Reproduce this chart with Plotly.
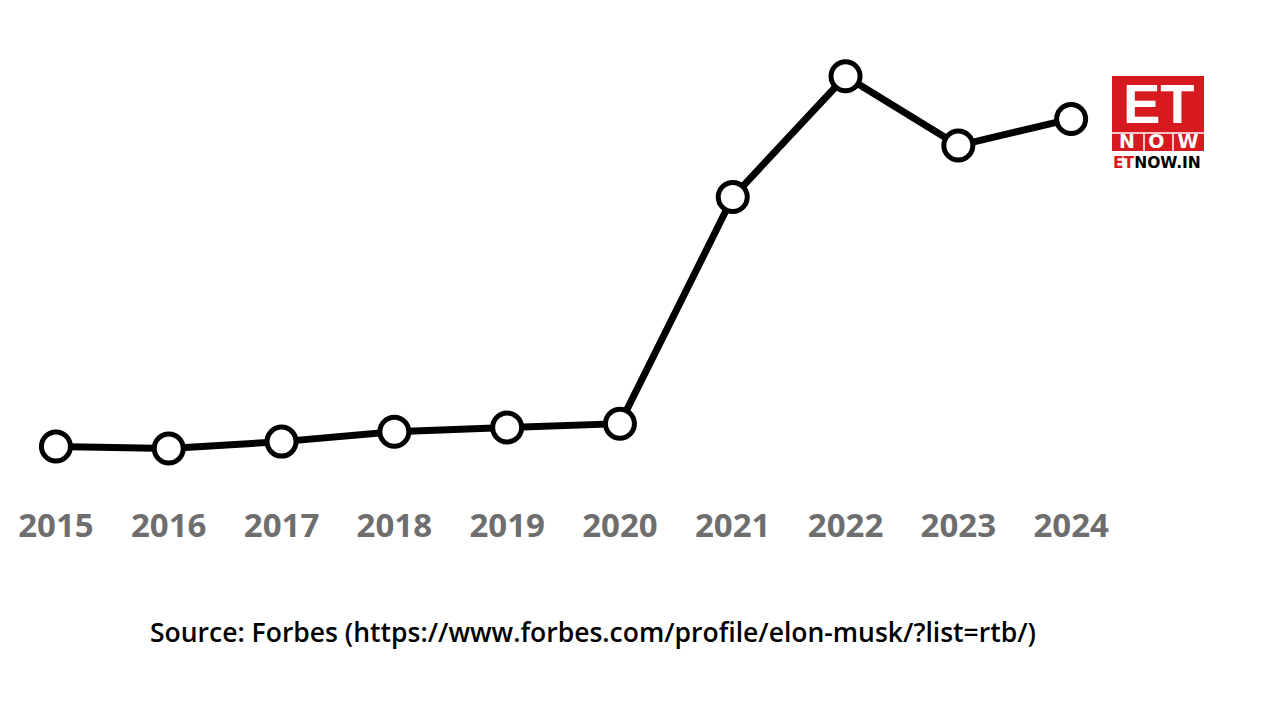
import plotly.graph_objects as go

years = [2015, 2016, 2017, 2018, 2019, 2020, 2021, 2022, 2023, 2024]
net_worth = [10.5, 9.4, 13.3, 18.9, 21.2, 23.4, 151, 219, 180, 195]
tick_labels = [str(y) for y in years]
source_text = "Source: Forbes (https://www.forbes.com/profile/elon-musk/?list=rtb/)"

W, H = 1280, 720
OFF = 8  # page offset of the figure
L, R, T, B = 0, 152, 31, 245
PW, PH = W - L - R, H - T - B

def px(x):
    return (x - OFF - L) / PW

def py(y):
    return (H - B - (y - OFF)) / PH

fig = go.Figure()
fig.add_trace(go.Scatter(
    x=years, y=net_worth, mode="lines+markers",
    line=dict(color="black", width=7),
    marker=dict(size=29, color="white", line=dict(color="black", width=5)),
    cliponaxis=False, hoverinfo="skip",
))

RED = "#d71920"
shapes = [
    dict(type="rect", xref="paper", yref="paper", x0=px(1112), x1=px(1204), y0=py(151), y1=py(76),
         fillcolor=RED, line=dict(width=0), layer="above"),
    dict(type="line", xref="paper", yref="paper", x0=px(1112), x1=px(1204), y0=py(133), y1=py(133),
         line=dict(color="white", width=1.5), layer="above"),
    dict(type="line", xref="paper", yref="paper", x0=px(1144), x1=px(1144), y0=py(133), y1=py(151),
         line=dict(color="white", width=1.5), layer="above"),
    dict(type="line", xref="paper", yref="paper", x0=px(1173), x1=px(1173), y0=py(133), y1=py(151),
         line=dict(color="white", width=1.5), layer="above"),
]

nb = "\u00a0\u00a0"
logo_text = ("<span style='font-family:Liberation Sans;font-size:56px'><b>ET</b></span><br>"
             f"<b>N{nb}O{nb}W</b>")

annotations = [
    dict(x=px(1159), y=py(152.5), xref="paper", yref="paper", text=logo_text, showarrow=False,
         borderpad=0, align="center",
         font=dict(family="DejaVu Sans", size=19, color="white"), xanchor="center", yanchor="bottom"),
    dict(x=px(1157), y=py(152.5), xref="paper", yref="paper",
         text=f"<b><span style='color:{RED}'>ET</span>NOW.IN</b>", showarrow=False, borderpad=0,
         font=dict(family="DejaVu Sans", size=15.5, color="black"), xanchor="center", yanchor="top"),
    dict(x=px(593), y=py(632), xref="paper", yref="paper", text=source_text, showarrow=False,
         font=dict(family="Open Sans", size=26.5, color="black", weight=600), xanchor="center", yanchor="middle"),
]

fig.update_layout(
    width=W, height=H,
    margin=dict(l=L, r=R, t=T, b=B, pad=0),
    paper_bgcolor="white", plot_bgcolor="white",
    showlegend=False,
    xaxis=dict(range=[2014.575, 2024.575], tickmode="array", tickvals=years, ticktext=tick_labels,
               showgrid=False, zeroline=False, showline=False, ticks="",
               tickfont=dict(family="Open Sans", size=33, color="#6e6e6e", weight=700),
               ticklabelstandoff=20),
    yaxis=dict(range=[-10, 240], visible=False, showgrid=False, zeroline=False),
    shapes=shapes, annotations=annotations,
)

fig.write_html("out.html")
